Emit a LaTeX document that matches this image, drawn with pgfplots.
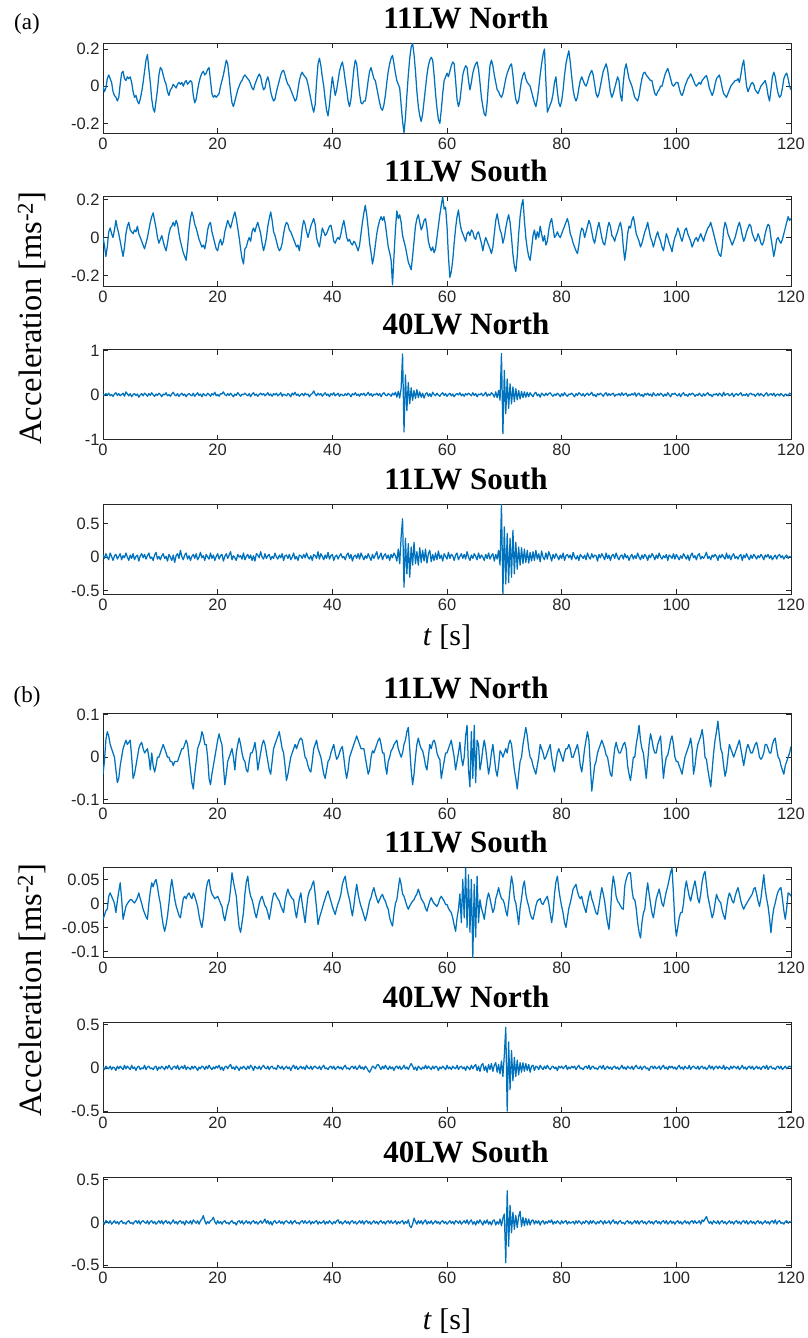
\documentclass[border=0pt]{standalone}
\usepackage{pgfplots}
\pgfplotsset{compat=1.18}
\usepackage{pgfplotstable}
\usepackage{fontspec}
\setmainfont{Liberation Serif}
\newfontfamily\ticksans{Liberation Sans}
\newcommand\ticksfont{\ticksans\fontsize{16.5bp}{18bp}\selectfont}
\newcommand\titlefont{\fontsize{31bp}{34bp}\selectfont\bfseries}
\definecolor{mblue}{rgb}{0,0.447,0.741}
\definecolor{axgray}{rgb}{0.15,0.15,0.15}

\pgfplotstableread[row sep=\\,header=false]{
0.00\\ -0.03\\ -0.01\\ 0.04\\ 0.06\\ 0.04\\ 0.02\\ -0.03\\ -0.05\\ -0.06\\ -0.08\\ -0.06\\ 0.01\\ 0.07\\ 0.08\\ 0.04\\
0.03\\ 0.05\\ 0.04\\ 0.05\\ 0.02\\ -0.03\\ -0.06\\ -0.05\\ -0.08\\ -0.095\\ -0.07\\ -0.03\\ 0.02\\ 0.08\\ 0.14\\ 0.17\\
0.09\\ 0.02\\ -0.07\\ -0.12\\ -0.14\\ -0.08\\ -0.02\\ 0.06\\ 0.10\\ 0.09\\ 0.06\\ 0.03\\ 0.01\\ -0.03\\ -0.05\\ -0.02\\
-0.01\\ 0.01\\ 0.00\\ -0.01\\ 0.01\\ 0.02\\ 0.01\\ 0.02\\ 0.00\\ 0.02\\ 0.03\\ 0.01\\ 0.02\\ 0.03\\ 0.02\\ -0.05\\
-0.09\\ -0.07\\ -0.02\\ 0.02\\ 0.05\\ 0.07\\ 0.08\\ 0.06\\ 0.07\\ 0.09\\ 0.10\\ 0.03\\ -0.04\\ -0.06\\ -0.05\\ -0.06\\
-0.05\\ -0.04\\ 0.00\\ 0.03\\ 0.06\\ 0.10\\ 0.14\\ 0.12\\ 0.05\\ -0.03\\ -0.09\\ -0.11\\ -0.08\\ -0.05\\ -0.02\\ 0.00\\
0.02\\ 0.03\\ 0.05\\ 0.06\\ 0.05\\ 0.04\\ 0.03\\ 0.01\\ -0.01\\ -0.02\\ 0.01\\ 0.03\\ 0.05\\ 0.065\\ 0.05\\ 0.01\\
-0.02\\ -0.01\\ 0.03\\ 0.05\\ 0.02\\ -0.03\\ -0.06\\ -0.08\\ -0.07\\ -0.03\\ 0.00\\ 0.03\\ 0.06\\ 0.08\\ 0.085\\ 0.06\\
0.03\\ 0.01\\ 0.00\\ -0.02\\ -0.04\\ -0.06\\ -0.08\\ -0.07\\ -0.02\\ 0.03\\ 0.06\\ 0.075\\ 0.06\\ 0.05\\ 0.04\\ 0.01\\
-0.03\\ -0.07\\ -0.11\\ -0.14\\ -0.10\\ 0.02\\ 0.12\\ 0.15\\ 0.11\\ 0.05\\ 0.00\\ -0.07\\ -0.13\\ -0.16\\ -0.10\\ -0.02\\
0.05\\ 0.00\\ -0.05\\ -0.02\\ 0.03\\ 0.08\\ 0.11\\ 0.13\\ 0.09\\ 0.03\\ -0.02\\ -0.08\\ -0.11\\ -0.07\\ 0.01\\ 0.09\\
0.14\\ 0.12\\ 0.04\\ -0.04\\ -0.09\\ -0.095\\ -0.08\\ -0.08\\ -0.03\\ 0.03\\ 0.08\\ 0.10\\ 0.07\\ 0.04\\ 0.03\\ -0.01\\
-0.05\\ -0.09\\ -0.12\\ -0.13\\ -0.10\\ -0.05\\ 0.02\\ 0.08\\ 0.12\\ 0.15\\ 0.165\\ 0.12\\ 0.07\\ 0.03\\ 0.01\\ -0.01\\
-0.10\\ -0.19\\ -0.25\\ -0.17\\ -0.05\\ 0.06\\ 0.15\\ 0.21\\ 0.23\\ 0.17\\ 0.08\\ -0.03\\ -0.11\\ -0.16\\ -0.19\\ -0.15\\
-0.08\\ -0.01\\ 0.06\\ 0.11\\ 0.14\\ 0.155\\ 0.14\\ 0.06\\ -0.04\\ -0.12\\ -0.18\\ -0.20\\ -0.13\\ -0.04\\ 0.03\\ 0.05\\
0.07\\ 0.05\\ 0.08\\ 0.11\\ 0.13\\ 0.12\\ 0.03\\ -0.07\\ -0.11\\ -0.08\\ -0.01\\ 0.06\\ 0.09\\ 0.11\\ 0.10\\ 0.03\\
-0.02\\ 0.02\\ 0.07\\ 0.10\\ 0.12\\ 0.13\\ 0.09\\ 0.02\\ -0.06\\ -0.11\\ -0.15\\ -0.16\\ -0.09\\ 0.02\\ 0.11\\ 0.14\\
0.11\\ 0.06\\ 0.02\\ -0.02\\ -0.03\\ -0.05\\ -0.06\\ -0.04\\ 0.00\\ 0.04\\ 0.07\\ 0.09\\ 0.11\\ 0.12\\ 0.06\\ -0.02\\
-0.07\\ -0.095\\ -0.08\\ -0.02\\ 0.03\\ 0.06\\ 0.075\\ 0.04\\ 0.02\\ 0.01\\ 0.00\\ -0.03\\ -0.06\\ -0.09\\ -0.11\\ -0.07\\
-0.01\\ 0.06\\ 0.12\\ 0.17\\ 0.20\\ 0.02\\ -0.14\\ -0.12\\ -0.10\\ -0.08\\ -0.04\\ 0.02\\ 0.05\\ -0.03\\ -0.09\\ -0.11\\
-0.08\\ -0.02\\ 0.06\\ 0.12\\ 0.16\\ 0.19\\ 0.13\\ 0.05\\ -0.02\\ -0.06\\ -0.08\\ -0.06\\ -0.01\\ 0.03\\ 0.05\\ 0.03\\
0.01\\ 0.00\\ 0.02\\ 0.05\\ 0.07\\ 0.085\\ 0.06\\ 0.01\\ -0.04\\ -0.06\\ -0.04\\ 0.00\\ 0.04\\ 0.08\\ 0.10\\ 0.12\\
0.09\\ 0.03\\ -0.03\\ -0.06\\ -0.04\\ -0.01\\ 0.02\\ 0.05\\ 0.03\\ -0.05\\ -0.08\\ 0.02\\ 0.09\\ 0.12\\ 0.08\\ 0.04\\
0.02\\ 0.00\\ -0.03\\ -0.06\\ -0.07\\ -0.08\\ -0.05\\ 0.00\\ 0.04\\ 0.07\\ 0.075\\ 0.06\\ 0.05\\ 0.04\\ 0.03\\ 0.03\\
-0.01\\ -0.04\\ -0.05\\ -0.03\\ -0.02\\ 0.00\\ 0.00\\ 0.03\\ 0.06\\ 0.08\\ 0.095\\ 0.07\\ 0.04\\ 0.01\\ 0.00\\ 0.01\\
0.02\\ 0.02\\ -0.01\\ -0.04\\ -0.05\\ -0.03\\ 0.00\\ 0.02\\ 0.04\\ 0.05\\ 0.066\\ 0.05\\ 0.03\\ 0.01\\ 0.00\\ 0.01\\
0.02\\ 0.01\\ 0.03\\ 0.04\\ 0.05\\ 0.057\\ 0.03\\ -0.01\\ -0.03\\ -0.05\\ -0.03\\ 0.01\\ 0.04\\ 0.05\\ 0.06\\ 0.03\\
-0.01\\ -0.04\\ -0.05\\ -0.06\\ -0.04\\ -0.02\\ 0.00\\ 0.01\\ 0.02\\ 0.03\\ 0.03\\ 0.04\\ 0.02\\ 0.06\\ 0.11\\ 0.14\\
0.07\\ 0.00\\ -0.03\\ -0.01\\ 0.01\\ 0.02\\ 0.01\\ -0.02\\ -0.03\\ -0.04\\ -0.02\\ 0.00\\ 0.01\\ 0.02\\ 0.03\\ 0.00\\
-0.05\\ -0.08\\ -0.02\\ 0.05\\ 0.075\\ 0.05\\ 0.00\\ -0.04\\ -0.06\\ -0.05\\ -0.01\\ 0.04\\ 0.06\\ 0.07\\ 0.04\\ 0.00\\
-0.02\\
}\tA

\pgfplotstableread[row sep=\\,header=false]{
0.00\\ -0.04\\ -0.10\\ -0.05\\ 0.03\\ 0.05\\ 0.02\\ 0.00\\ 0.04\\ 0.09\\ 0.05\\ 0.02\\ -0.02\\ -0.06\\ -0.10\\ -0.05\\
0.02\\ 0.06\\ 0.08\\ 0.04\\ 0.03\\ 0.02\\ 0.04\\ 0.03\\ 0.06\\ 0.02\\ 0.00\\ -0.02\\ -0.04\\ -0.06\\ -0.03\\ 0.00\\
0.04\\ 0.08\\ 0.11\\ 0.13\\ 0.09\\ 0.05\\ 0.00\\ -0.03\\ -0.01\\ 0.01\\ -0.02\\ -0.05\\ -0.07\\ -0.03\\ 0.02\\ 0.05\\
0.06\\ 0.08\\ 0.06\\ 0.09\\ 0.07\\ 0.02\\ -0.02\\ -0.05\\ -0.08\\ -0.10\\ -0.12\\ -0.05\\ 0.04\\ 0.10\\ 0.135\\ 0.11\\
0.07\\ 0.05\\ 0.02\\ -0.01\\ -0.03\\ -0.05\\ -0.04\\ -0.06\\ -0.02\\ 0.04\\ 0.07\\ 0.08\\ 0.03\\ 0.00\\ -0.03\\ -0.06\\
-0.07\\ -0.03\\ -0.01\\ -0.04\\ -0.02\\ 0.03\\ 0.06\\ 0.09\\ 0.07\\ 0.05\\ 0.08\\ 0.11\\ 0.135\\ 0.10\\ 0.05\\ 0.00\\
-0.06\\ -0.11\\ -0.14\\ -0.06\\ -0.05\\ -0.02\\ 0.00\\ -0.02\\ 0.03\\ 0.05\\ 0.03\\ 0.06\\ 0.08\\ 0.05\\ 0.02\\ -0.03\\
-0.07\\ -0.04\\ 0.00\\ 0.06\\ 0.10\\ 0.135\\ 0.09\\ 0.03\\ 0.01\\ -0.02\\ -0.05\\ -0.07\\ -0.06\\ -0.03\\ 0.02\\ 0.06\\
0.08\\ 0.07\\ 0.04\\ 0.03\\ 0.01\\ -0.01\\ -0.03\\ -0.05\\ -0.04\\ -0.07\\ -0.02\\ 0.05\\ 0.09\\ 0.07\\ 0.03\\ 0.00\\
0.03\\ 0.06\\ 0.08\\ 0.10\\ 0.07\\ 0.00\\ -0.03\\ -0.05\\ 0.00\\ 0.05\\ 0.03\\ 0.01\\ 0.02\\ 0.04\\ 0.06\\ 0.065\\
0.03\\ -0.02\\ -0.03\\ -0.01\\ 0.00\\ -0.01\\ 0.02\\ 0.06\\ 0.09\\ 0.05\\ 0.00\\ -0.02\\ -0.01\\ -0.03\\ -0.04\\ -0.02\\
-0.03\\ -0.05\\ -0.07\\ -0.04\\ 0.02\\ 0.08\\ 0.13\\ 0.17\\ 0.12\\ 0.05\\ -0.03\\ -0.08\\ -0.14\\ -0.10\\ -0.04\\ 0.02\\
0.06\\ 0.09\\ 0.11\\ 0.09\\ 0.11\\ 0.07\\ 0.01\\ -0.05\\ -0.08\\ -0.12\\ -0.25\\ -0.10\\ 0.04\\ 0.14\\ 0.10\\ 0.12\\
0.08\\ 0.01\\ -0.02\\ -0.05\\ -0.09\\ -0.13\\ -0.15\\ -0.17\\ -0.10\\ -0.02\\ 0.06\\ 0.10\\ 0.12\\ 0.08\\ 0.04\\ 0.06\\
0.09\\ 0.10\\ 0.05\\ -0.02\\ -0.05\\ -0.07\\ -0.05\\ -0.08\\ -0.06\\ 0.00\\ 0.06\\ 0.12\\ 0.17\\ 0.215\\ 0.15\\ 0.16\\
0.06\\ -0.10\\ -0.21\\ -0.18\\ -0.12\\ -0.03\\ 0.05\\ 0.11\\ 0.145\\ 0.08\\ 0.04\\ 0.02\\ 0.00\\ -0.02\\ 0.02\\ 0.03\\
0.01\\ 0.04\\ 0.03\\ 0.00\\ -0.01\\ 0.02\\ 0.03\\ 0.00\\ -0.03\\ -0.07\\ -0.03\\ 0.00\\ -0.02\\ -0.04\\ -0.06\\ -0.085\\
-0.05\\ 0.02\\ 0.09\\ 0.125\\ 0.08\\ 0.04\\ 0.02\\ -0.03\\ 0.00\\ 0.05\\ 0.09\\ 0.12\\ 0.08\\ 0.00\\ -0.09\\ -0.15\\
-0.18\\ -0.10\\ 0.02\\ 0.11\\ 0.17\\ 0.20\\ 0.09\\ 0.00\\ -0.06\\ -0.10\\ -0.12\\ -0.06\\ 0.01\\ 0.04\\ -0.01\\ 0.03\\
0.00\\ 0.06\\ 0.02\\ -0.02\\ 0.01\\ -0.04\\ -0.02\\ 0.04\\ 0.08\\ 0.10\\ 0.05\\ 0.00\\ 0.01\\ 0.03\\ 0.01\\ 0.00\\
0.02\\ 0.04\\ 0.06\\ 0.08\\ 0.10\\ 0.07\\ 0.02\\ 0.00\\ -0.03\\ -0.05\\ -0.07\\ -0.085\\ -0.04\\ 0.02\\ 0.05\\ 0.04\\
0.00\\ 0.03\\ 0.06\\ 0.09\\ 0.07\\ 0.03\\ -0.01\\ -0.03\\ 0.01\\ 0.05\\ 0.08\\ 0.04\\ 0.00\\ -0.03\\ -0.04\\ 0.00\\
0.05\\ 0.08\\ 0.06\\ 0.01\\ 0.00\\ -0.02\\ 0.01\\ 0.03\\ 0.06\\ 0.08\\ 0.04\\ -0.05\\ -0.12\\ -0.06\\ 0.02\\ 0.06\\
0.05\\ 0.09\\ 0.11\\ 0.07\\ 0.02\\ 0.00\\ -0.02\\ -0.05\\ -0.03\\ 0.00\\ 0.03\\ 0.05\\ 0.08\\ 0.04\\ 0.00\\ -0.02\\
-0.05\\ -0.02\\ 0.01\\ 0.03\\ 0.00\\ -0.02\\ -0.05\\ -0.07\\ -0.03\\ 0.02\\ 0.00\\ -0.03\\ -0.05\\ -0.075\\ -0.03\\ 0.00\\
0.02\\ 0.05\\ 0.03\\ 0.00\\ -0.02\\ 0.01\\ 0.04\\ 0.05\\ 0.02\\ 0.00\\ -0.02\\ -0.05\\ -0.03\\ -0.01\\ 0.00\\ -0.02\\
0.00\\ 0.02\\ 0.00\\ -0.02\\ 0.01\\ 0.03\\ 0.05\\ 0.06\\ 0.08\\ 0.05\\ 0.02\\ -0.01\\ -0.04\\ -0.07\\ -0.09\\ -0.10\\
-0.05\\ 0.04\\ 0.08\\ 0.06\\ 0.02\\ 0.00\\ -0.02\\ -0.04\\ -0.02\\ 0.00\\ 0.03\\ 0.06\\ 0.08\\ 0.05\\ 0.01\\ -0.02\\
0.00\\ 0.03\\ 0.05\\ 0.07\\ 0.06\\ 0.02\\ 0.00\\ -0.02\\ -0.01\\ 0.02\\ 0.00\\ -0.03\\ -0.04\\ -0.02\\ 0.02\\ 0.05\\
0.07\\ 0.06\\ 0.00\\ -0.05\\ -0.10\\ -0.06\\ -0.01\\ 0.00\\ -0.02\\ -0.03\\ -0.01\\ 0.02\\ 0.05\\ 0.08\\ 0.11\\ 0.09\\
0.10\\
}\tB

\pgfplotstableread[row sep=\\,header=false]{
0.02\\ -0.01\\ 0.03\\ 0.00\\ 0.04\\ -0.02\\ 0.01\\ -0.03\\ 0.02\\ 0.05\\ -0.01\\ 0.03\\ -0.02\\ 0.01\\ 0.04\\ -0.03\\
0.07\\ 0.02\\ -0.02\\ 0.03\\ -0.04\\ 0.01\\ 0.03\\ -0.01\\ 0.02\\ -0.05\\ 0.00\\ 0.03\\ -0.02\\ 0.04\\ 0.01\\ -0.03\\
0.03\\ -0.01\\ 0.05\\ 0.00\\ -0.03\\ 0.02\\ -0.01\\ 0.04\\ 0.01\\ -0.04\\ 0.02\\ 0.00\\ 0.05\\ -0.02\\ 0.01\\ -0.03\\
0.02\\ 0.06\\ 0.00\\ -0.02\\ 0.03\\ -0.03\\ 0.01\\ 0.04\\ -0.01\\ 0.02\\ -0.04\\ 0.01\\ 0.03\\ 0.00\\ -0.02\\ 0.04\\
-0.03\\ 0.01\\ 0.05\\ -0.01\\ 0.02\\ -0.04\\ 0.03\\ 0.00\\ -0.02\\ 0.04\\ 0.01\\ -0.03\\ 0.03\\ 0.00\\ 0.06\\ -0.02\\
0.01\\ -0.03\\ 0.03\\ 0.02\\ 0.07\\ 0.01\\ -0.02\\ 0.03\\ -0.01\\ 0.04\\ 0.00\\ -0.04\\ 0.02\\ -0.01\\ 0.05\\ 0.01\\
-0.03\\ 0.02\\ 0.00\\ 0.04\\ 0.01\\ -0.02\\ 0.03\\ -0.04\\ 0.02\\ 0.05\\ -0.01\\ 0.02\\ -0.03\\ 0.01\\ 0.04\\ 0.00\\
0.03\\ -0.02\\ 0.01\\ 0.05\\ -0.01\\ 0.02\\ -0.03\\ 0.03\\ 0.00\\ 0.04\\ -0.02\\ 0.01\\ 0.05\\ -0.03\\ 0.02\\ 0.00\\
-0.02\\ 0.03\\ 0.01\\ -0.04\\ 0.04\\ 0.00\\ 0.06\\ -0.01\\ 0.02\\ -0.03\\ 0.01\\ 0.03\\ -0.02\\ 0.04\\ 0.00\\ 0.02\\
-0.04\\ 0.01\\ 0.03\\ 0.09\\ 0.02\\ -0.02\\ 0.04\\ 0.00\\ 0.03\\ -0.03\\ 0.01\\ 0.05\\ -0.01\\ 0.02\\ -0.04\\ 0.03\\
0.00\\ 0.05\\ -0.02\\ 0.01\\ 0.04\\ -0.03\\ 0.02\\ 0.00\\ -0.02\\ 0.03\\ -0.01\\ 0.04\\ 0.01\\ -0.04\\ 0.03\\ 0.00\\
0.05\\ -0.01\\ 0.02\\ -0.03\\ 0.03\\ 0.00\\ 0.04\\ -0.02\\ 0.01\\ 0.06\\ -0.01\\ 0.03\\ -0.03\\ 0.02\\ 0.00\\ 0.04\\
-0.01\\ 0.03\\ -0.04\\ 0.02\\ 0.05\\ 0.00\\ -0.02\\ 0.03\\ 0.01\\ -0.03\\ 0.04\\ 0.00\\ 0.06\\ -0.05\\ 0.08\\ -0.07\\
0.15\\ 0.92\\ -0.83\\ 0.45\\ -0.35\\ 0.28\\ -0.20\\ 0.16\\ -0.12\\ 0.10\\ -0.08\\ 0.12\\ -0.06\\ 0.07\\ -0.05\\ 0.04\\
-0.07\\ 0.02\\ 0.05\\ -0.03\\ 0.03\\ -0.04\\ 0.06\\ 0.01\\ -0.02\\ 0.04\\ 0.00\\ -0.03\\ 0.02\\ 0.05\\ -0.01\\ 0.03\\
-0.03\\ 0.01\\ 0.04\\ -0.02\\ 0.02\\ -0.04\\ 0.01\\ 0.03\\ 0.00\\ 0.05\\ -0.02\\ 0.02\\ -0.03\\ 0.03\\ 0.00\\ 0.04\\
0.01\\ -0.02\\ 0.05\\ -0.01\\ 0.03\\ -0.04\\ 0.02\\ 0.00\\ 0.04\\ -0.02\\ 0.01\\ 0.06\\ -0.03\\ 0.02\\ -0.01\\ 0.05\\
0.02\\ -0.05\\ 0.07\\ -0.06\\ 0.10\\ -0.12\\ 0.93\\ -0.87\\ 0.55\\ -0.42\\ 0.36\\ -0.30\\ 0.25\\ -0.20\\ 0.18\\ -0.15\\
0.14\\ -0.11\\ 0.10\\ -0.09\\ 0.08\\ -0.06\\ 0.07\\ -0.05\\ 0.06\\ -0.04\\ 0.05\\ 0.00\\ -0.04\\ 0.03\\ 0.06\\ -0.02\\
0.02\\ -0.05\\ 0.04\\ 0.01\\ -0.02\\ 0.04\\ -0.01\\ 0.03\\ 0.05\\ 0.00\\ -0.03\\ 0.02\\ -0.01\\ 0.04\\ 0.01\\ -0.04\\
0.03\\ -0.02\\ 0.05\\ 0.00\\ -0.03\\ 0.02\\ 0.01\\ 0.04\\ 0.00\\ -0.04\\ 0.03\\ -0.01\\ 0.05\\ 0.02\\ -0.02\\ 0.03\\
-0.03\\ 0.01\\ 0.04\\ -0.01\\ 0.02\\ 0.06\\ -0.02\\ 0.01\\ -0.04\\ 0.03\\ 0.00\\ 0.04\\ 0.01\\ -0.03\\ 0.02\\ 0.05\\
-0.02\\ 0.03\\ -0.01\\ 0.02\\ 0.04\\ -0.03\\ 0.01\\ 0.00\\ 0.03\\ -0.02\\ 0.05\\ -0.01\\ 0.02\\ 0.04\\ -0.03\\ 0.01\\
-0.01\\ 0.03\\ 0.00\\ 0.05\\ -0.03\\ 0.02\\ 0.04\\ -0.02\\ 0.01\\ -0.04\\ 0.03\\ 0.00\\ 0.04\\ -0.01\\ 0.02\\ -0.03\\
0.05\\ 0.00\\ -0.02\\ 0.03\\ -0.01\\ 0.04\\ 0.01\\ -0.03\\ 0.02\\ -0.02\\ 0.05\\ 0.00\\ -0.04\\ 0.03\\ 0.01\\ 0.04\\
0.00\\ -0.02\\ 0.03\\ -0.04\\ 0.02\\ 0.05\\ -0.01\\ 0.01\\ -0.03\\ 0.03\\ 0.00\\ 0.04\\ 0.02\\ -0.03\\ 0.01\\ -0.01\\
0.04\\ 0.00\\ -0.03\\ 0.03\\ -0.02\\ 0.02\\ 0.05\\ -0.01\\ 0.01\\ -0.04\\ 0.02\\ 0.00\\ 0.03\\ -0.02\\ 0.04\\ 0.01\\
-0.03\\ 0.06\\ -0.01\\ 0.02\\ 0.03\\ -0.02\\ 0.00\\ 0.04\\ -0.04\\ 0.01\\ 0.03\\ -0.01\\ 0.02\\ 0.05\\ -0.02\\ 0.01\\
-0.01\\ 0.03\\ -0.03\\ 0.02\\ 0.04\\ 0.00\\ 0.02\\ -0.03\\ 0.01\\ 0.04\\ -0.02\\ 0.03\\ 0.00\\ -0.03\\ 0.02\\ 0.05\\
-0.02\\ 0.01\\ 0.03\\ -0.01\\ 0.04\\ -0.03\\ 0.01\\ 0.02\\ -0.02\\ 0.03\\ 0.00\\ -0.03\\ 0.02\\ 0.01\\ -0.02\\ 0.04\\
0.02\\
}\tC

\pgfplotstableread[row sep=\\,header=false]{
0.03\\ -0.02\\ 0.05\\ 0.00\\ -0.04\\ 0.06\\ 0.01\\ -0.05\\ 0.02\\ 0.04\\ -0.03\\ 0.01\\ 0.05\\ -0.04\\ 0.02\\ -0.01\\
0.06\\ 0.00\\ -0.05\\ 0.03\\ -0.02\\ 0.05\\ -0.04\\ 0.01\\ 0.03\\ -0.06\\ 0.02\\ 0.05\\ -0.01\\ 0.04\\ -0.03\\ 0.02\\
0.06\\ -0.02\\ 0.00\\ -0.05\\ 0.03\\ 0.07\\ -0.03\\ 0.01\\ -0.04\\ 0.02\\ 0.05\\ -0.02\\ 0.01\\ -0.06\\ 0.04\\ 0.00\\
-0.05\\ 0.03\\ -0.08\\ 0.02\\ 0.05\\ -0.02\\ 0.10\\ 0.01\\ -0.04\\ 0.03\\ 0.06\\ -0.03\\ 0.02\\ -0.05\\ 0.01\\ 0.04\\
-0.02\\ 0.05\\ -0.04\\ 0.00\\ 0.07\\ -0.01\\ 0.02\\ -0.05\\ 0.04\\ 0.00\\ -0.03\\ 0.06\\ -0.02\\ 0.03\\ -0.05\\ 0.01\\
0.05\\ -0.03\\ 0.02\\ 0.04\\ -0.06\\ 0.01\\ 0.05\\ -0.02\\ 0.03\\ 0.08\\ -0.04\\ 0.02\\ -0.01\\ -0.05\\ 0.04\\ 0.00\\
0.02\\ -0.03\\ 0.06\\ -0.04\\ 0.01\\ 0.04\\ -0.02\\ 0.03\\ -0.05\\ 0.02\\ -0.06\\ 0.05\\ 0.03\\ -0.01\\ 0.08\\ 0.00\\
-0.03\\ 0.05\\ -0.02\\ 0.02\\ 0.04\\ -0.04\\ 0.01\\ -0.02\\ 0.06\\ 0.00\\ -0.03\\ 0.03\\ -0.01\\ 0.05\\ -0.05\\ 0.02\\
0.03\\ -0.02\\ 0.04\\ -0.04\\ 0.00\\ 0.06\\ -0.03\\ 0.01\\ -0.05\\ 0.03\\ 0.02\\ -0.02\\ 0.04\\ -0.01\\ 0.06\\ 0.00\\
-0.03\\ 0.02\\ -0.05\\ 0.04\\ 0.02\\ -0.02\\ 0.08\\ -0.03\\ 0.05\\ 0.01\\ -0.04\\ 0.03\\ -0.02\\ 0.07\\ -0.03\\ 0.02\\
0.04\\ -0.05\\ 0.01\\ 0.03\\ -0.03\\ 0.02\\ 0.05\\ -0.01\\ 0.01\\ -0.04\\ 0.03\\ 0.06\\ -0.02\\ 0.04\\ -0.06\\ 0.01\\
0.03\\ -0.02\\ 0.05\\ -0.03\\ 0.06\\ 0.01\\ -0.04\\ 0.02\\ -0.02\\ 0.05\\ 0.00\\ -0.05\\ 0.04\\ -0.02\\ 0.03\\ 0.08\\
-0.03\\ 0.01\\ 0.06\\ -0.04\\ 0.02\\ 0.05\\ -0.02\\ 0.03\\ -0.05\\ 0.04\\ -0.01\\ 0.06\\ 0.02\\ -0.06\\ 0.12\\ -0.10\\
0.30\\ 0.57\\ -0.45\\ 0.28\\ -0.25\\ 0.20\\ -0.30\\ 0.15\\ -0.12\\ 0.22\\ -0.10\\ 0.08\\ -0.12\\ 0.14\\ -0.08\\ 0.10\\
-0.06\\ 0.12\\ -0.09\\ 0.05\\ 0.10\\ -0.07\\ 0.04\\ -0.05\\ 0.06\\ -0.04\\ 0.09\\ -0.02\\ 0.03\\ -0.06\\ 0.05\\ 0.01\\
-0.03\\ 0.07\\ -0.02\\ 0.04\\ 0.02\\ -0.05\\ 0.03\\ 0.06\\ -0.04\\ 0.01\\ 0.05\\ -0.02\\ 0.04\\ -0.03\\ 0.08\\ 0.00\\
-0.05\\ 0.03\\ -0.02\\ 0.05\\ 0.01\\ -0.04\\ 0.06\\ -0.02\\ 0.03\\ 0.00\\ -0.05\\ 0.04\\ -0.02\\ 0.06\\ -0.03\\ 0.02\\
0.05\\ -0.06\\ 0.04\\ -0.03\\ 0.10\\ -0.12\\ 0.79\\ -0.55\\ 0.45\\ -0.40\\ 0.35\\ -0.38\\ 0.28\\ -0.30\\ 0.40\\ -0.25\\
0.22\\ -0.18\\ 0.15\\ -0.12\\ 0.14\\ -0.10\\ 0.12\\ -0.08\\ 0.10\\ -0.09\\ 0.07\\ -0.06\\ 0.08\\ -0.05\\ 0.10\\ -0.03\\
0.05\\ -0.07\\ 0.09\\ 0.00\\ -0.04\\ 0.06\\ -0.03\\ 0.08\\ 0.02\\ -0.06\\ 0.04\\ -0.02\\ 0.05\\ 0.01\\ -0.04\\ 0.03\\
-0.02\\ 0.06\\ -0.05\\ 0.02\\ 0.04\\ -0.01\\ 0.03\\ -0.04\\ 0.07\\ 0.00\\ -0.03\\ 0.02\\ -0.05\\ 0.04\\ 0.01\\ -0.02\\
0.03\\ -0.04\\ 0.06\\ 0.00\\ -0.03\\ 0.05\\ -0.01\\ 0.03\\ 0.02\\ -0.06\\ 0.04\\ -0.01\\ 0.05\\ 0.01\\ -0.04\\ 0.06\\
-0.02\\ 0.03\\ -0.05\\ 0.02\\ 0.04\\ -0.02\\ 0.06\\ 0.00\\ -0.04\\ 0.02\\ 0.03\\ -0.03\\ 0.05\\ -0.01\\ 0.02\\ -0.05\\
0.01\\ 0.04\\ -0.03\\ 0.02\\ -0.02\\ 0.06\\ 0.00\\ -0.04\\ 0.03\\ -0.02\\ 0.04\\ 0.01\\ -0.05\\ 0.03\\ -0.01\\ 0.05\\
0.02\\ -0.04\\ 0.03\\ -0.02\\ 0.06\\ 0.00\\ -0.03\\ 0.02\\ -0.01\\ 0.04\\ -0.05\\ 0.03\\ 0.01\\ -0.02\\ 0.05\\ -0.03\\
0.04\\ 0.00\\ -0.04\\ 0.02\\ -0.02\\ 0.05\\ 0.01\\ -0.03\\ 0.03\\ -0.05\\ 0.02\\ 0.06\\ -0.01\\ 0.02\\ -0.04\\ 0.03\\
0.05\\ -0.03\\ 0.01\\ -0.02\\ 0.02\\ 0.07\\ -0.02\\ 0.01\\ -0.04\\ 0.03\\ 0.00\\ 0.04\\ 0.01\\ -0.05\\ 0.03\\ -0.01\\
0.04\\ 0.00\\ -0.03\\ 0.06\\ -0.02\\ 0.03\\ -0.04\\ 0.02\\ 0.05\\ -0.02\\ 0.01\\ -0.03\\ 0.02\\ 0.04\\ -0.05\\ 0.03\\
-0.01\\ 0.05\\ 0.00\\ -0.04\\ 0.03\\ -0.02\\ 0.04\\ 0.01\\ -0.03\\ 0.02\\ -0.01\\ 0.04\\ 0.01\\ -0.04\\ 0.03\\ 0.00\\
0.04\\ -0.02\\ 0.02\\ -0.04\\ 0.00\\ 0.03\\ -0.03\\ 0.02\\ 0.04\\ -0.01\\ 0.02\\ -0.03\\ 0.01\\ 0.03\\ -0.02\\ 0.01\\
0.00\\
}\tD

\pgfplotstableread[row sep=\\,header=false]{
-0.04\\ -0.01\\ 0.04\\ 0.06\\ 0.05\\ 0.03\\ 0.02\\ 0.01\\ 0.00\\ -0.03\\ -0.06\\ -0.05\\ -0.02\\ 0.00\\ 0.02\\ 0.03\\
0.04\\ 0.03\\ 0.035\\ 0.04\\ 0.00\\ -0.05\\ -0.04\\ -0.02\\ 0.00\\ 0.02\\ 0.03\\ 0.035\\ 0.02\\ 0.01\\ 0.015\\ 0.02\\
0.00\\ -0.03\\ 0.01\\ -0.02\\ -0.035\\ -0.02\\ 0.00\\ 0.00\\ 0.01\\ 0.02\\ 0.03\\ 0.02\\ 0.01\\ 0.00\\ 0.00\\ -0.01\\
-0.01\\ -0.02\\ -0.01\\ -0.01\\ -0.01\\ 0.00\\ 0.01\\ 0.02\\ 0.02\\ 0.03\\ 0.04\\ 0.03\\ 0.00\\ -0.03\\ -0.06\\ -0.075\\
-0.04\\ -0.01\\ 0.02\\ 0.03\\ 0.04\\ 0.06\\ 0.05\\ 0.03\\ 0.03\\ 0.00\\ -0.05\\ -0.065\\ -0.04\\ -0.02\\ 0.00\\ 0.02\\
0.04\\ 0.055\\ 0.04\\ 0.03\\ -0.02\\ -0.065\\ -0.04\\ -0.01\\ 0.00\\ 0.01\\ 0.02\\ 0.00\\ -0.03\\ 0.01\\ 0.03\\ 0.045\\
0.03\\ 0.01\\ -0.005\\ -0.01\\ -0.03\\ -0.035\\ -0.01\\ 0.01\\ 0.01\\ 0.02\\ 0.035\\ 0.01\\ -0.03\\ -0.01\\ 0.01\\ 0.03\\
0.04\\ 0.03\\ 0.01\\ -0.01\\ -0.03\\ -0.04\\ -0.01\\ 0.02\\ 0.03\\ 0.04\\ 0.05\\ 0.06\\ 0.04\\ 0.02\\ 0.01\\ -0.02\\
-0.055\\ -0.04\\ -0.02\\ 0.00\\ 0.01\\ 0.02\\ 0.03\\ 0.02\\ 0.03\\ 0.04\\ 0.045\\ 0.04\\ 0.02\\ 0.00\\ -0.005\\ -0.02\\
-0.03\\ -0.035\\ -0.01\\ 0.02\\ 0.03\\ 0.04\\ 0.02\\ 0.01\\ 0.00\\ -0.02\\ -0.04\\ -0.05\\ -0.03\\ -0.01\\ -0.005\\ 0.01\\
0.02\\ 0.03\\ 0.01\\ -0.005\\ 0.00\\ 0.01\\ 0.02\\ 0.025\\ 0.00\\ -0.03\\ -0.05\\ -0.03\\ 0.00\\ 0.01\\ 0.02\\ 0.03\\
0.04\\ 0.05\\ 0.04\\ 0.03\\ 0.02\\ 0.02\\ 0.02\\ 0.00\\ -0.02\\ -0.04\\ -0.03\\ 0.00\\ 0.015\\ 0.01\\ 0.02\\ 0.03\\
0.04\\ 0.045\\ 0.03\\ 0.01\\ 0.01\\ -0.02\\ -0.04\\ -0.01\\ 0.00\\ 0.015\\ 0.02\\ 0.03\\ 0.035\\ 0.04\\ 0.02\\ 0.01\\
0.00\\ 0.01\\ 0.03\\ 0.04\\ 0.06\\ 0.07\\ 0.02\\ -0.03\\ -0.065\\ -0.04\\ 0.00\\ 0.03\\ 0.045\\ 0.03\\ 0.02\\ 0.015\\
0.00\\ -0.02\\ -0.03\\ 0.00\\ 0.03\\ 0.02\\ 0.035\\ 0.04\\ 0.03\\ 0.01\\ 0.00\\ -0.005\\ -0.05\\ -0.03\\ -0.01\\ 0.01\\
0.01\\ 0.02\\ 0.03\\ 0.04\\ 0.02\\ 0.00\\ -0.03\\ -0.01\\ 0.01\\ 0.035\\ 0.00\\ -0.02\\ 0.00\\ 0.05\\ 0.075\\ -0.03\\
-0.07\\ 0.06\\ -0.05\\ 0.075\\ -0.06\\ 0.04\\ 0.03\\ -0.03\\ -0.01\\ 0.02\\ 0.04\\ 0.02\\ -0.01\\ -0.04\\ -0.02\\ 0.01\\
0.03\\ 0.00\\ -0.03\\ -0.045\\ -0.02\\ 0.015\\ 0.01\\ 0.00\\ 0.01\\ 0.02\\ 0.01\\ 0.03\\ 0.04\\ 0.03\\ 0.00\\ -0.03\\
-0.05\\ -0.075\\ -0.04\\ -0.01\\ 0.00\\ 0.03\\ 0.05\\ 0.07\\ 0.05\\ 0.02\\ 0.00\\ -0.005\\ -0.02\\ -0.03\\ -0.04\\ -0.02\\
0.00\\ 0.03\\ 0.02\\ 0.01\\ -0.005\\ 0.00\\ 0.01\\ 0.02\\ 0.03\\ 0.00\\ -0.02\\ -0.035\\ -0.01\\ 0.01\\ 0.02\\ 0.01\\
0.00\\ -0.01\\ 0.01\\ 0.02\\ 0.02\\ 0.03\\ 0.02\\ 0.00\\ 0.00\\ 0.01\\ 0.02\\ 0.03\\ 0.01\\ -0.02\\ -0.035\\ -0.01\\
0.02\\ 0.04\\ 0.06\\ 0.04\\ -0.02\\ -0.08\\ -0.05\\ -0.02\\ -0.01\\ 0.01\\ 0.02\\ 0.03\\ 0.04\\ 0.03\\ 0.02\\ 0.005\\
0.00\\ -0.02\\ -0.04\\ -0.045\\ -0.01\\ 0.02\\ 0.035\\ 0.02\\ 0.01\\ 0.01\\ 0.02\\ 0.03\\ 0.035\\ 0.02\\ -0.02\\ -0.04\\
-0.055\\ -0.03\\ 0.00\\ 0.00\\ 0.03\\ 0.05\\ 0.075\\ 0.04\\ 0.02\\ 0.01\\ -0.02\\ -0.05\\ -0.01\\ 0.03\\ 0.055\\ 0.04\\
0.02\\ 0.01\\ 0.01\\ 0.03\\ 0.04\\ 0.05\\ 0.00\\ -0.05\\ -0.02\\ 0.00\\ 0.005\\ 0.02\\ 0.04\\ 0.05\\ 0.03\\ 0.00\\
-0.01\\ -0.01\\ -0.02\\ -0.03\\ -0.04\\ -0.02\\ 0.00\\ 0.01\\ 0.02\\ 0.03\\ 0.045\\ 0.02\\ -0.04\\ -0.02\\ 0.01\\ 0.03\\
0.04\\ 0.05\\ 0.065\\ 0.04\\ 0.00\\ -0.005\\ -0.03\\ -0.05\\ -0.07\\ -0.03\\ 0.01\\ 0.04\\ 0.06\\ 0.085\\ 0.05\\ 0.02\\
0.01\\ -0.02\\ -0.045\\ -0.03\\ 0.00\\ 0.03\\ 0.02\\ 0.01\\ 0.00\\ 0.01\\ 0.02\\ 0.03\\ 0.04\\ 0.02\\ 0.00\\ -0.02\\
0.00\\ 0.02\\ 0.03\\ 0.02\\ 0.01\\ 0.01\\ 0.02\\ 0.03\\ 0.035\\ 0.02\\ 0.00\\ -0.005\\ 0.00\\ 0.01\\ 0.03\\ 0.03\\
0.02\\ 0.01\\ 0.01\\ 0.03\\ 0.04\\ 0.045\\ 0.02\\ 0.00\\ -0.005\\ -0.02\\ -0.03\\ -0.04\\ -0.02\\ -0.01\\ 0.00\\ 0.01\\
0.025\\
}\tE

\pgfplotstableread[row sep=\\,header=false]{
-0.033\\ -0.025\\ -0.015\\ -0.012\\ 0.015\\ 0.022\\ 0.015\\ 0.008\\ 0.0\\ -0.019\\ 0.005\\ 0.025\\ 0.043\\ 0.01\\ -0.033\\ -0.02\\
-0.006\\ 0.0\\ 0.004\\ 0.008\\ 0.008\\ 0.004\\ 0.001\\ 0.006\\ 0.012\\ 0.022\\ 0.01\\ 0.0\\ -0.012\\ -0.02\\ -0.028\\ -0.033\\
0.0\\ 0.025\\ 0.043\\ 0.035\\ 0.045\\ 0.05\\ 0.035\\ 0.015\\ 0.0\\ -0.025\\ -0.045\\ -0.058\\ -0.045\\ -0.026\\ 0.0\\ 0.03\\
0.05\\ 0.03\\ 0.01\\ -0.005\\ -0.015\\ -0.025\\ -0.03\\ -0.01\\ 0.01\\ 0.015\\ 0.01\\ 0.018\\ 0.022\\ 0.015\\ 0.01\\ 0.022\\
0.015\\ 0.005\\ -0.006\\ -0.025\\ -0.04\\ -0.05\\ -0.03\\ 0.0\\ 0.03\\ 0.045\\ 0.05\\ 0.03\\ 0.02\\ 0.015\\ 0.01\\ 0.012\\
0.015\\ 0.008\\ 0.0\\ -0.006\\ -0.025\\ -0.036\\ -0.02\\ -0.005\\ 0.005\\ 0.03\\ 0.064\\ 0.045\\ 0.03\\ 0.015\\ -0.02\\ -0.05\\
-0.06\\ -0.04\\ -0.019\\ 0.02\\ 0.045\\ 0.057\\ 0.03\\ 0.015\\ 0.008\\ -0.005\\ -0.02\\ -0.03\\ -0.015\\ 0.0\\ 0.01\\ 0.015\\
0.005\\ -0.005\\ -0.009\\ -0.02\\ -0.033\\ -0.015\\ 0.005\\ 0.02\\ 0.022\\ 0.015\\ 0.01\\ 0.005\\ -0.005\\ -0.012\\ -0.019\\ 0.005\\
0.02\\ 0.03\\ 0.02\\ 0.015\\ 0.01\\ 0.008\\ -0.015\\ -0.03\\ -0.01\\ 0.01\\ 0.022\\ 0.0\\ -0.02\\ -0.04\\ -0.01\\ 0.015\\
0.026\\ 0.03\\ 0.04\\ 0.047\\ 0.02\\ -0.01\\ -0.044\\ -0.03\\ -0.02\\ -0.01\\ 0.001\\ 0.01\\ 0.02\\ 0.026\\ 0.015\\ 0.005\\
-0.006\\ -0.015\\ -0.023\\ -0.01\\ 0.0\\ 0.008\\ 0.02\\ 0.04\\ 0.05\\ 0.057\\ 0.035\\ 0.02\\ 0.008\\ -0.01\\ -0.026\\ -0.005\\
0.02\\ 0.04\\ 0.02\\ 0.005\\ -0.006\\ -0.015\\ -0.025\\ -0.036\\ -0.025\\ -0.01\\ 0.005\\ 0.012\\ 0.025\\ 0.033\\ 0.02\\ 0.01\\
0.001\\ 0.008\\ 0.015\\ 0.019\\ 0.01\\ 0.005\\ -0.005\\ -0.012\\ -0.03\\ -0.04\\ -0.047\\ -0.02\\ 0.0\\ 0.008\\ 0.03\\ 0.053\\
0.04\\ 0.02\\ 0.015\\ 0.005\\ -0.005\\ -0.012\\ -0.005\\ 0.0\\ 0.005\\ 0.008\\ 0.015\\ 0.02\\ 0.03\\ 0.02\\ 0.01\\ 0.005\\
0.0\\ -0.01\\ -0.016\\ -0.005\\ 0.005\\ 0.012\\ 0.005\\ 0.0\\ -0.003\\ -0.006\\ 0.0\\ 0.01\\ 0.015\\ 0.01\\ 0.005\\ -0.002\\
-0.002\\ -0.01\\ -0.015\\ -0.019\\ -0.03\\ -0.045\\ -0.058\\ -0.03\\ -0.012\\ 0.02\\ -0.04\\ 0.05\\ -0.03\\ 0.074\\ -0.05\\ 0.06\\
-0.06\\ 0.05\\ -0.113\\ 0.04\\ -0.07\\ 0.057\\ -0.04\\ 0.008\\ -0.01\\ -0.02\\ -0.033\\ -0.01\\ 0.01\\ 0.022\\ 0.01\\ -0.005\\
-0.019\\ -0.01\\ 0.01\\ 0.02\\ 0.033\\ 0.02\\ 0.01\\ 0.008\\ 0.0\\ -0.015\\ -0.026\\ 0.0\\ 0.03\\ 0.057\\ 0.04\\ 0.01\\
0.001\\ -0.02\\ -0.044\\ -0.01\\ 0.01\\ 0.035\\ 0.047\\ 0.02\\ 0.005\\ -0.006\\ -0.02\\ -0.03\\ -0.033\\ -0.02\\ -0.005\\ 0.005\\
0.008\\ 0.01\\ 0.0\\ -0.002\\ 0.005\\ 0.01\\ 0.015\\ 0.0\\ -0.02\\ -0.04\\ -0.02\\ 0.02\\ 0.045\\ 0.057\\ 0.03\\ 0.01\\
-0.006\\ -0.02\\ -0.04\\ -0.05\\ -0.03\\ -0.01\\ 0.001\\ 0.015\\ 0.03\\ 0.035\\ 0.04\\ 0.025\\ 0.015\\ 0.01\\ 0.015\\ 0.0\\
-0.01\\ -0.019\\ 0.0\\ 0.015\\ 0.026\\ 0.01\\ 0.001\\ -0.01\\ -0.02\\ -0.023\\ -0.005\\ 0.015\\ 0.033\\ 0.02\\ 0.005\\ -0.02\\
-0.04\\ -0.054\\ -0.02\\ 0.03\\ 0.057\\ 0.04\\ 0.015\\ 0.005\\ 0.001\\ -0.005\\ -0.01\\ -0.012\\ 0.036\\ 0.05\\ 0.06\\ 0.064\\
0.064\\ 0.03\\ 0.01\\ 0.008\\ -0.01\\ -0.04\\ -0.06\\ -0.072\\ -0.04\\ -0.02\\ -0.012\\ 0.02\\ 0.043\\ 0.02\\ 0.0\\ -0.02\\
-0.03\\ -0.01\\ 0.01\\ 0.02\\ 0.03\\ 0.015\\ 0.0\\ -0.006\\ 0.01\\ 0.025\\ 0.036\\ 0.05\\ 0.065\\ 0.074\\ 0.02\\ -0.04\\
-0.068\\ -0.05\\ -0.03\\ -0.019\\ -0.019\\ 0.0\\ 0.03\\ 0.047\\ 0.03\\ 0.015\\ 0.005\\ 0.02\\ 0.035\\ 0.047\\ 0.03\\ 0.01\\
0.001\\ 0.02\\ 0.045\\ 0.06\\ 0.067\\ 0.04\\ 0.015\\ 0.0\\ -0.015\\ -0.03\\ -0.02\\ 0.0\\ 0.019\\ 0.01\\ 0.005\\ 0.001\\
-0.015\\ -0.025\\ -0.033\\ -0.01\\ 0.01\\ 0.022\\ 0.015\\ 0.005\\ 0.001\\ 0.015\\ 0.025\\ 0.033\\ 0.02\\ 0.005\\ -0.005\\ -0.012\\
-0.005\\ 0.0\\ 0.005\\ 0.01\\ 0.015\\ 0.02\\ 0.03\\ 0.033\\ 0.02\\ 0.005\\ -0.006\\ 0.01\\ 0.035\\ 0.06\\ 0.03\\ 0.01\\
-0.006\\ -0.03\\ -0.061\\ -0.03\\ -0.01\\ 0.001\\ 0.015\\ 0.025\\ 0.03\\ 0.033\\ 0.01\\ -0.015\\ -0.033\\ -0.01\\ 0.022\\ 0.02\\
0.015\\
}\tF

\pgfplotstableread[row sep=\\,header=false]{
0.01\\ -0.02\\ 0.02\\ 0.00\\ -0.01\\ 0.02\\ -0.02\\ 0.01\\ 0.00\\ -0.03\\ 0.02\\ -0.01\\ 0.02\\ 0.00\\ -0.02\\ 0.03\\
-0.01\\ 0.02\\ 0.00\\ -0.02\\ 0.03\\ -0.01\\ 0.01\\ -0.03\\ 0.01\\ 0.02\\ -0.02\\ 0.00\\ -0.01\\ 0.03\\ -0.02\\ 0.01\\
0.02\\ -0.01\\ 0.00\\ -0.02\\ 0.01\\ 0.02\\ -0.03\\ 0.01\\ -0.01\\ 0.02\\ 0.00\\ -0.02\\ 0.02\\ -0.01\\ 0.03\\ 0.00\\
-0.02\\ 0.01\\ 0.02\\ -0.01\\ 0.03\\ -0.02\\ 0.00\\ 0.02\\ -0.01\\ 0.03\\ -0.02\\ 0.01\\ 0.00\\ -0.02\\ 0.02\\ -0.01\\
0.02\\ 0.00\\ -0.03\\ 0.01\\ -0.01\\ 0.02\\ 0.01\\ -0.02\\ 0.02\\ -0.01\\ 0.03\\ 0.00\\ -0.02\\ 0.01\\ -0.01\\ 0.02\\
0.00\\ 0.03\\ -0.02\\ 0.01\\ -0.03\\ 0.01\\ 0.02\\ -0.01\\ 0.02\\ 0.04\\ -0.01\\ 0.01\\ -0.02\\ 0.02\\ 0.00\\ -0.03\\
0.01\\ -0.01\\ 0.02\\ 0.00\\ -0.02\\ 0.02\\ -0.01\\ 0.03\\ 0.01\\ -0.03\\ 0.02\\ 0.00\\ -0.01\\ 0.02\\ -0.02\\ 0.01\\
0.03\\ 0.00\\ -0.01\\ 0.02\\ -0.02\\ 0.01\\ 0.02\\ -0.01\\ 0.00\\ -0.02\\ 0.03\\ 0.01\\ -0.01\\ 0.02\\ -0.02\\ 0.00\\
0.02\\ -0.01\\ 0.01\\ -0.03\\ 0.01\\ 0.03\\ -0.01\\ 0.02\\ -0.02\\ 0.00\\ 0.02\\ -0.01\\ 0.01\\ -0.02\\ 0.03\\ 0.00\\
-0.01\\ 0.02\\ -0.02\\ 0.01\\ 0.02\\ 0.00\\ -0.01\\ 0.02\\ -0.02\\ 0.01\\ 0.03\\ -0.01\\ 0.00\\ -0.02\\ 0.01\\ 0.02\\
-0.01\\ 0.02\\ -0.02\\ 0.00\\ 0.02\\ -0.01\\ 0.01\\ -0.02\\ 0.01\\ 0.03\\ -0.01\\ 0.00\\ -0.02\\ 0.01\\ 0.02\\ -0.01\\
0.02\\ -0.02\\ 0.00\\ 0.03\\ -0.01\\ 0.01\\ -0.02\\ 0.02\\ 0.00\\ -0.03\\ -0.05\\ -0.02\\ 0.02\\ 0.01\\ -0.01\\ 0.03\\
0.04\\ 0.01\\ -0.02\\ 0.02\\ -0.01\\ 0.03\\ 0.00\\ -0.02\\ 0.02\\ -0.01\\ 0.01\\ -0.03\\ 0.01\\ 0.02\\ -0.01\\ 0.02\\
-0.02\\ 0.00\\ 0.03\\ -0.01\\ 0.01\\ -0.02\\ 0.02\\ 0.05\\ 0.02\\ -0.02\\ 0.01\\ -0.03\\ 0.02\\ 0.00\\ -0.02\\ 0.01\\
-0.01\\ 0.03\\ -0.01\\ 0.02\\ 0.00\\ -0.02\\ 0.02\\ -0.01\\ 0.02\\ 0.01\\ -0.03\\ 0.01\\ -0.01\\ 0.02\\ 0.00\\ -0.02\\
0.03\\ -0.01\\ 0.01\\ -0.02\\ 0.02\\ 0.00\\ -0.01\\ 0.03\\ -0.02\\ 0.01\\ 0.02\\ -0.01\\ 0.01\\ -0.03\\ 0.02\\ 0.00\\
-0.02\\ 0.03\\ -0.01\\ 0.02\\ 0.04\\ -0.03\\ 0.02\\ -0.04\\ 0.03\\ 0.05\\ -0.03\\ 0.02\\ -0.05\\ 0.04\\ -0.02\\ 0.05\\
-0.04\\ 0.03\\ 0.06\\ -0.05\\ 0.04\\ -0.07\\ 0.08\\ -0.10\\ 0.15\\ 0.47\\ -0.50\\ 0.30\\ -0.25\\ 0.20\\ -0.15\\ 0.12\\
-0.10\\ 0.09\\ -0.08\\ 0.06\\ -0.05\\ 0.06\\ -0.04\\ 0.05\\ -0.03\\ 0.04\\ -0.05\\ 0.02\\ 0.03\\ -0.03\\ 0.02\\ 0.01\\
-0.02\\ 0.03\\ 0.00\\ -0.02\\ 0.02\\ -0.01\\ 0.03\\ 0.00\\ -0.02\\ 0.01\\ 0.02\\ -0.01\\ 0.01\\ -0.03\\ 0.02\\ 0.00\\
0.02\\ -0.01\\ 0.01\\ 0.03\\ -0.02\\ 0.01\\ -0.01\\ 0.02\\ 0.00\\ 0.02\\ -0.02\\ 0.01\\ 0.03\\ -0.01\\ 0.00\\ -0.02\\
0.01\\ 0.02\\ -0.01\\ 0.03\\ -0.02\\ 0.01\\ 0.02\\ -0.01\\ 0.00\\ -0.02\\ 0.01\\ 0.02\\ -0.01\\ 0.03\\ -0.02\\ 0.00\\
0.02\\ -0.01\\ 0.01\\ -0.02\\ 0.01\\ 0.02\\ -0.01\\ 0.01\\ -0.02\\ 0.00\\ 0.03\\ -0.01\\ 0.01\\ -0.02\\ 0.02\\ 0.00\\
-0.01\\ 0.02\\ -0.02\\ 0.01\\ 0.03\\ 0.00\\ -0.01\\ 0.02\\ -0.02\\ 0.01\\ 0.02\\ -0.01\\ 0.00\\ -0.03\\ 0.01\\ 0.02\\
-0.01\\ 0.02\\ -0.01\\ 0.00\\ 0.02\\ -0.02\\ 0.01\\ 0.03\\ -0.01\\ 0.01\\ -0.02\\ 0.02\\ 0.00\\ 0.02\\ -0.01\\ 0.01\\
-0.02\\ 0.01\\ 0.03\\ -0.01\\ 0.01\\ -0.02\\ 0.02\\ 0.00\\ -0.01\\ 0.03\\ -0.02\\ 0.01\\ 0.02\\ 0.00\\ -0.01\\ 0.02\\
-0.02\\ 0.01\\ 0.02\\ -0.01\\ 0.01\\ -0.02\\ 0.00\\ 0.03\\ -0.01\\ 0.02\\ -0.02\\ 0.01\\ 0.02\\ -0.01\\ 0.02\\ 0.00\\
-0.01\\ 0.03\\ -0.02\\ 0.01\\ 0.00\\ -0.02\\ 0.02\\ -0.01\\ 0.02\\ 0.01\\ -0.01\\ 0.02\\ -0.02\\ 0.00\\ 0.03\\ -0.01\\
0.01\\ -0.02\\ 0.01\\ 0.02\\ -0.01\\ 0.02\\ -0.02\\ 0.00\\ 0.02\\ -0.01\\ 0.01\\ -0.02\\ 0.01\\ 0.02\\ -0.01\\ 0.03\\
-0.02\\ 0.01\\ 0.02\\ -0.01\\ 0.00\\ -0.02\\ 0.01\\ 0.02\\ -0.01\\ 0.02\\ -0.02\\ 0.00\\ 0.02\\ -0.01\\ 0.01\\ 0.02\\
0.01\\
}\tG

\pgfplotstableread[row sep=\\,header=false]{
0.00\\ -0.02\\ 0.02\\ 0.01\\ -0.01\\ 0.02\\ -0.02\\ 0.00\\ 0.02\\ -0.01\\ 0.01\\ -0.02\\ 0.01\\ 0.02\\ -0.01\\ 0.00\\
-0.02\\ 0.01\\ 0.02\\ -0.01\\ 0.00\\ -0.02\\ 0.01\\ 0.02\\ -0.01\\ 0.02\\ -0.02\\ 0.01\\ 0.02\\ 0.00\\ -0.01\\ 0.02\\
-0.02\\ 0.01\\ 0.02\\ -0.01\\ 0.01\\ -0.02\\ 0.00\\ 0.02\\ -0.01\\ 0.02\\ -0.02\\ 0.01\\ 0.02\\ -0.01\\ 0.01\\ -0.02\\
0.00\\ 0.03\\ -0.01\\ 0.01\\ -0.02\\ 0.01\\ 0.02\\ -0.01\\ 0.01\\ -0.03\\ 0.02\\ 0.00\\ -0.01\\ 0.02\\ -0.02\\ 0.03\\
0.01\\ -0.01\\ 0.02\\ -0.02\\ 0.02\\ 0.04\\ 0.08\\ 0.02\\ -0.02\\ 0.01\\ -0.01\\ 0.02\\ 0.03\\ 0.06\\ 0.01\\ -0.02\\
0.02\\ -0.01\\ 0.01\\ -0.02\\ 0.01\\ 0.02\\ -0.01\\ 0.00\\ -0.02\\ 0.01\\ 0.02\\ -0.01\\ 0.00\\ -0.03\\ 0.01\\ 0.02\\
-0.01\\ 0.02\\ -0.02\\ 0.00\\ 0.02\\ -0.01\\ 0.01\\ -0.02\\ 0.01\\ 0.02\\ -0.01\\ 0.01\\ -0.02\\ 0.00\\ 0.02\\ -0.01\\
0.01\\ 0.04\\ -0.01\\ 0.02\\ -0.02\\ 0.01\\ -0.03\\ 0.01\\ 0.02\\ -0.01\\ 0.00\\ 0.02\\ -0.01\\ 0.01\\ -0.02\\ 0.01\\
0.02\\ 0.00\\ -0.01\\ 0.02\\ -0.02\\ 0.01\\ 0.02\\ -0.01\\ 0.00\\ -0.02\\ 0.01\\ 0.02\\ -0.01\\ 0.02\\ -0.01\\ 0.00\\
0.02\\ -0.02\\ 0.01\\ -0.01\\ 0.01\\ 0.02\\ -0.02\\ 0.01\\ -0.01\\ 0.00\\ 0.02\\ -0.02\\ 0.01\\ -0.01\\ 0.02\\ 0.00\\
-0.02\\ 0.01\\ -0.01\\ 0.02\\ 0.03\\ -0.01\\ 0.01\\ -0.02\\ 0.00\\ 0.02\\ -0.01\\ 0.01\\ -0.02\\ 0.01\\ 0.02\\ -0.01\\
0.01\\ -0.02\\ 0.00\\ 0.02\\ -0.01\\ 0.02\\ -0.02\\ 0.01\\ 0.02\\ -0.01\\ 0.01\\ -0.02\\ 0.00\\ 0.02\\ -0.01\\ 0.01\\
-0.02\\ 0.01\\ 0.02\\ -0.01\\ 0.01\\ -0.02\\ 0.01\\ 0.02\\ -0.01\\ 0.02\\ -0.01\\ 0.00\\ 0.02\\ -0.02\\ 0.01\\ -0.01\\
0.01\\ 0.02\\ -0.02\\ 0.01\\ -0.01\\ 0.03\\ -0.04\\ -0.06\\ -0.02\\ 0.05\\ 0.01\\ -0.02\\ 0.02\\ -0.01\\ 0.02\\ -0.02\\
0.01\\ 0.03\\ -0.02\\ 0.01\\ -0.01\\ 0.02\\ -0.02\\ 0.00\\ 0.02\\ -0.01\\ 0.01\\ -0.02\\ 0.01\\ 0.02\\ -0.01\\ 0.01\\
-0.02\\ 0.00\\ 0.02\\ -0.01\\ 0.01\\ -0.02\\ 0.02\\ 0.01\\ -0.01\\ 0.02\\ -0.02\\ 0.00\\ 0.02\\ -0.01\\ 0.03\\ -0.02\\
0.01\\ 0.03\\ -0.02\\ 0.01\\ -0.03\\ 0.02\\ -0.01\\ 0.03\\ 0.00\\ -0.03\\ 0.02\\ -0.01\\ 0.03\\ -0.02\\ 0.01\\ -0.03\\
0.02\\ 0.03\\ -0.03\\ 0.01\\ -0.02\\ 0.04\\ -0.04\\ 0.05\\ 0.10\\ -0.47\\ 0.37\\ -0.28\\ 0.20\\ -0.12\\ 0.12\\ -0.08\\
0.08\\ -0.06\\ 0.07\\ 0.13\\ -0.05\\ 0.06\\ -0.04\\ 0.05\\ -0.03\\ 0.04\\ -0.03\\ 0.02\\ 0.03\\ -0.02\\ 0.02\\ -0.01\\
0.02\\ -0.03\\ 0.01\\ 0.02\\ -0.02\\ 0.01\\ -0.01\\ 0.02\\ 0.00\\ 0.03\\ -0.02\\ 0.01\\ -0.01\\ 0.02\\ 0.00\\ -0.02\\
0.02\\ -0.01\\ 0.01\\ 0.02\\ -0.02\\ 0.01\\ -0.01\\ 0.00\\ 0.01\\ -0.02\\ 0.02\\ -0.01\\ 0.02\\ 0.00\\ -0.02\\ 0.01\\
-0.01\\ 0.02\\ 0.01\\ -0.02\\ 0.02\\ -0.01\\ 0.02\\ 0.00\\ -0.02\\ 0.01\\ -0.01\\ 0.02\\ 0.01\\ -0.02\\ 0.02\\ -0.01\\
0.00\\ 0.02\\ -0.02\\ 0.01\\ 0.03\\ -0.01\\ 0.01\\ -0.02\\ 0.01\\ 0.02\\ -0.01\\ 0.00\\ -0.02\\ 0.01\\ 0.02\\ -0.01\\
0.01\\ -0.02\\ 0.00\\ 0.02\\ -0.01\\ 0.02\\ -0.02\\ 0.01\\ 0.02\\ -0.01\\ 0.01\\ -0.02\\ 0.00\\ 0.02\\ -0.01\\ 0.01\\
-0.02\\ 0.01\\ 0.02\\ -0.01\\ 0.01\\ -0.02\\ 0.01\\ 0.02\\ -0.01\\ 0.02\\ -0.02\\ 0.00\\ 0.02\\ -0.01\\ 0.01\\ -0.02\\
0.01\\ 0.02\\ -0.01\\ 0.01\\ -0.02\\ 0.00\\ 0.02\\ -0.01\\ 0.01\\ -0.02\\ 0.01\\ 0.02\\ -0.01\\ 0.02\\ -0.01\\ 0.00\\
0.02\\ -0.02\\ 0.03\\ 0.01\\ 0.04\\ 0.07\\ 0.02\\ -0.01\\ 0.01\\ -0.02\\ 0.02\\ 0.00\\ -0.01\\ 0.02\\ -0.02\\ 0.01\\
0.02\\ -0.01\\ 0.01\\ -0.02\\ 0.00\\ 0.02\\ -0.01\\ 0.01\\ -0.02\\ 0.01\\ 0.02\\ -0.01\\ 0.01\\ -0.02\\ 0.01\\ 0.02\\
-0.01\\ 0.02\\ -0.02\\ 0.00\\ 0.02\\ -0.01\\ 0.01\\ -0.02\\ 0.01\\ 0.02\\ -0.01\\ 0.01\\ -0.02\\ 0.00\\ 0.02\\ -0.01\\
0.01\\ -0.02\\ 0.01\\ 0.02\\ -0.01\\ 0.03\\ -0.02\\ 0.01\\ 0.02\\ -0.01\\ 0.00\\ -0.02\\ 0.01\\ 0.02\\ -0.01\\ 0.01\\
0.00\\
}\tH

\pgfplotsset{
  trace/.style={
    width=688bp, height=90bp, scale only axis,
    anchor=north west,
    xmin=0, xmax=120, xtick={0,20,...,120},
    axis line style={draw=axgray, line width=0.8bp},
    every tick/.style={draw=axgray, line width=0.6bp},
    tick align=inside, major tick length=5bp,
    tick label style={font=\ticksfont, text=black!85},
    /pgf/number format/assume math mode=true,
    yticklabel style={/pgf/number format/fixed, /pgf/number format/precision=2},
    xticklabel style={yshift=-1bp},
    title style={at={(0.5276,1)}, anchor=base, yshift=9bp, font=\titlefont},
  },
  sig/.style={color=mblue, line width=1.25bp, line join=round},
}

\begin{document}
\begin{tikzpicture}
\path[use as bounding box] (0,0) rectangle (808bp,-1338bp);

\node[font=\fontsize{23bp}{25bp}\selectfont] at (27bp,-24bp) {(a)};
\node[font=\fontsize{23bp}{25bp}\selectfont] at (27bp,-697bp) {(b)};
\node[font=\fontsize{32.5bp}{35bp}\selectfont, rotate=90] at (32bp,-318bp) {Acceleration [ms\textsuperscript{-2}]};
\node[font=\fontsize{32.5bp}{35bp}\selectfont, rotate=90] at (32bp,-990bp) {Acceleration [ms\textsuperscript{-2}]};
\node[font=\fontsize{30bp}{34bp}\selectfont] at (447bp,-637bp) {\textit{t} [s]};
\node[font=\fontsize{30bp}{34bp}\selectfont] at (447bp,-1321bp) {\textit{t} [s]};

\begin{axis}[trace, at={(103bp,-43bp)}, title={11LW North},
  ymin=-0.252, ymax=0.232, ytick={-0.2,0,0.2}]
\addplot[sig] table[x expr=\coordindex*0.25, y index=0] {\tA};
\end{axis}

\begin{axis}[trace, at={(103bp,-196bp)}, title={11LW South},
  ymin=-0.256, ymax=0.219, ytick={-0.2,0,0.2}]
\addplot[sig] table[x expr=\coordindex*0.25, y index=0] {\tB};
\end{axis}

\begin{axis}[trace, at={(103bp,-349.5bp)}, title={40LW North},
  ymin=-1, ymax=1.02, ytick={-1,0,1}]
\addplot[sig] table[x expr=\coordindex*0.25, y index=0] {\tC};
\end{axis}

\begin{axis}[trace, at={(103bp,-504bp)}, title={11LW South},
  ymin=-0.55, ymax=0.79, ytick={-0.5,0,0.5}]
\addplot[sig] table[x expr=\coordindex*0.25, y index=0] {\tD};
\end{axis}

\begin{axis}[trace, at={(103bp,-713bp)}, title={11LW North},
  ymin=-0.108, ymax=0.104, ytick={-0.1,0,0.1}]
\addplot[sig] table[x expr=\coordindex*0.25, y index=0] {\tE};
\end{axis}

\begin{axis}[trace, at={(103bp,-867bp)}, title={11LW South},
  ymin=-0.1116, ymax=0.076, ytick={-0.1,-0.05,0,0.05}]
\addplot[sig] table[x expr=\coordindex*0.25, y index=0] {\tF};
\end{axis}

\begin{axis}[trace, at={(103bp,-1022bp)}, title={40LW North},
  ymin=-0.51, ymax=0.53, ytick={-0.5,0,0.5}]
\addplot[sig] table[x expr=\coordindex*0.25, y index=0] {\tG};
\end{axis}

\begin{axis}[trace, at={(103bp,-1177bp)}, title={40LW South},
  ymin=-0.52, ymax=0.53, ytick={-0.5,0,0.5}]
\addplot[sig] table[x expr=\coordindex*0.25, y index=0] {\tH};
\end{axis}
\end{tikzpicture}
\end{document}
